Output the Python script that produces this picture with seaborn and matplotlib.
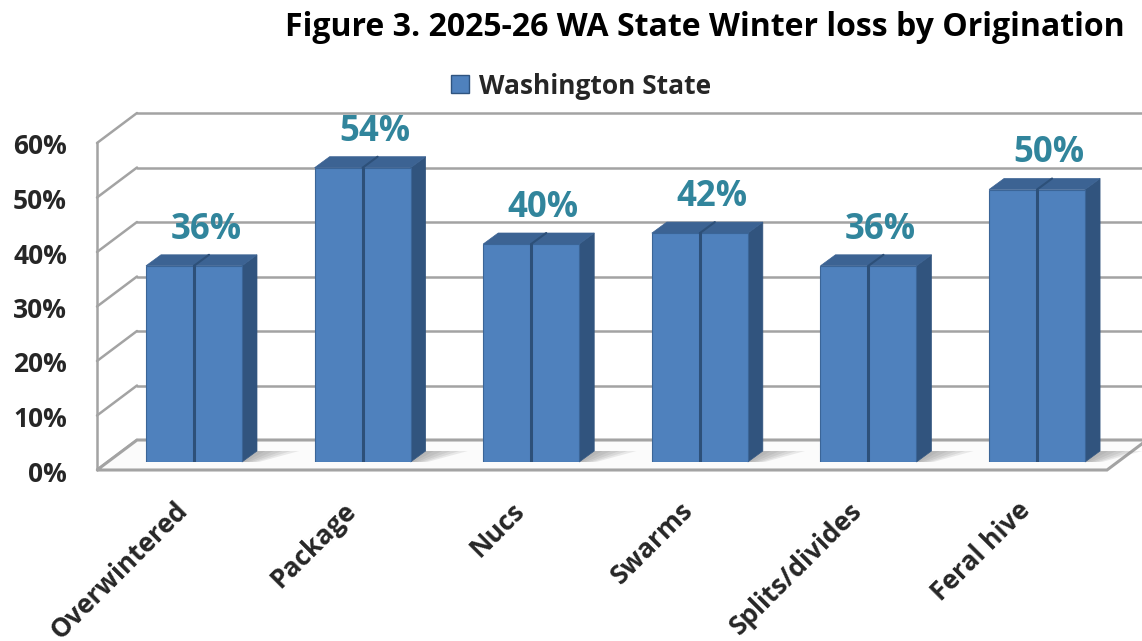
import matplotlib
matplotlib.use('Agg')
import numpy as np
import pandas as pd
import matplotlib.pyplot as plt
import seaborn as sns
from matplotlib.patches import Polygon, Patch
from matplotlib.transforms import ScaledTranslation

# data
categories = ['Overwintered', 'Package', 'Nucs', 'Swarms', 'Splits/divides', 'Feral hive']
loss_pct = [36, 54, 40, 42, 36, 50]
yticks = [0, 10, 20, 30, 40, 50, 60]
series_name = 'Washington State'
title = 'Figure 3. 2025-26 WA State Winter loss by Origination'

sns.set_theme(style='white')
plt.rcParams['font.family'] = ['Open Sans', 'DejaVu Sans']
plt.rcParams['font.weight'] = 'bold'

front_col = '#4f81bd'
side_col = '#31547e'
top_col = '#3c6393'
grid_col = '#a3a3a3'
label_col = '#31859c'

# figure / axes in pixels (bar plane)
W, H = 1142, 641
L, R, B, T = 108, 1118, 462, 135
fig = plt.figure(figsize=(W / 100, H / 100), dpi=100)
ax = fig.add_axes([L / W, 1 - B / H, (R - L) / W, (B - T) / H])
xmin, xmax = -0.51, 5.48
ymax = 60
ux = (R - L) / (xmax - xmin)
uy = (B - T) / ymax


def off(px, py):
    # pixel offset -> data offset
    return px / ux, py / uy


back = off(29, 22)
front = off(-11, -8)
depth = off(15, 11)
bw = 96 / ux

df = pd.DataFrame({'origin': categories, 'loss': loss_pct})
sns.barplot(data=df, x='origin', y='loss', color=front_col, saturation=1,
            width=bw, edgecolor='#3b6597', linewidth=0.8, ax=ax, zorder=4)

ax.set_xlim(xmin, xmax)
ax.set_ylim(0, ymax)
for s in ax.spines.values():
    s.set_visible(False)
ax.set_xlabel('')
ax.set_ylabel('')

# back wall gridlines + left wall
for t in yticks:
    ax.plot([xmin + back[0], xmax + back[0] + 0.3], [t + back[1]] * 2,
            color=grid_col, lw=1.8, clip_on=False, zorder=0)
    ax.plot([xmin + front[0], xmin + back[0]], [t + front[1], t + back[1]],
            color=grid_col, lw=1.8, clip_on=False, zorder=0)
ax.plot([xmin + front[0]] * 2, [front[1], ymax + front[1]],
        color=grid_col, lw=1.8, clip_on=False, zorder=0)

# floor
floor = Polygon([(xmin + front[0], front[1]), (xmax + front[0], front[1]),
                 (xmax + back[0], back[1]), (xmin + back[0], back[1])],
                closed=True, facecolor='#fbfbfb', edgecolor=grid_col, lw=2.2,
                clip_on=False, zorder=0.5)
ax.add_patch(floor)

# 3d faces, shadows, labels
for i, v in enumerate(loss_pct):
    xl, xr = i - bw / 2, i + bw / 2
    for ext in [0.05, 0.1, 0.15, 0.2, 0.25]:
        ax.add_patch(Polygon([(xr, 0), (xr + depth[0], depth[1]),
                              (xr + depth[0] + ext, depth[1]), (xr + ext * 0.4, 0)],
                             closed=True, facecolor='#8a8a8a', alpha=0.16, lw=0,
                             clip_on=False, zorder=1))
    ax.add_patch(Polygon([(xr, 0), (xr + depth[0], depth[1]),
                          (xr + depth[0], v + depth[1]), (xr, v)],
                         closed=True, facecolor=side_col, edgecolor=side_col,
                         lw=0.5, clip_on=False, zorder=3))
    ax.add_patch(Polygon([(xl, v), (xl + depth[0], v + depth[1]),
                          (xr + depth[0], v + depth[1]), (xr, v)],
                         closed=True, facecolor=top_col, edgecolor=top_col,
                         lw=0.5, clip_on=False, zorder=3))
    ax.plot([i, i], [0, v], color='#2d5079', lw=2.2, zorder=5)
    ax.plot([i, i + depth[0]], [v, v + depth[1]], color='#2d5079', lw=1.5,
            zorder=5, clip_on=False)
    ax.annotate(f'{v}%', xy=(i, v), xytext=(12 * 0.72, 27 * 0.72),
                textcoords='offset points', ha='center', va='baseline',
                fontsize=25, fontweight='bold', color=label_col,
                annotation_clip=False, zorder=6)

# ticks
ax.set_yticks(yticks)
ax.set_yticklabels([f'{t}%' for t in yticks])
ax.tick_params(axis='y', length=0, pad=41 * 0.72, labelsize=19)
for lab in ax.get_yticklabels():
    lab.set_transform(lab.get_transform() + ScaledTranslation(0, -9 / 100, fig.dpi_scale_trans))

ax.set_xticks(range(len(categories)))
ax.set_xticklabels(categories, rotation=45, ha='right', rotation_mode='anchor')
ax.tick_params(axis='x', length=0, pad=35 * 0.72, labelsize=19)
for lab in ax.get_xticklabels():
    lab.set_transform(lab.get_transform() + ScaledTranslation(-20 / 100, 0, fig.dpi_scale_trans))

# legend and title
fig.legend(handles=[Patch(facecolor=front_col, edgecolor='#2f5480')], labels=[series_name],
           loc='center', bbox_to_anchor=(581 / W, 1 - 86 / H), frameon=False,
           prop={'size': 19, 'weight': 'bold'}, handlelength=0.68, handleheight=0.68,
           handletextpad=0.35, borderaxespad=0, borderpad=0)
fig.text(1125 / W, 1 - 27 / H, title, ha='right', va='center', fontsize=23,
         fontweight='bold', color='black')

fig.savefig('out.png', dpi=100)
